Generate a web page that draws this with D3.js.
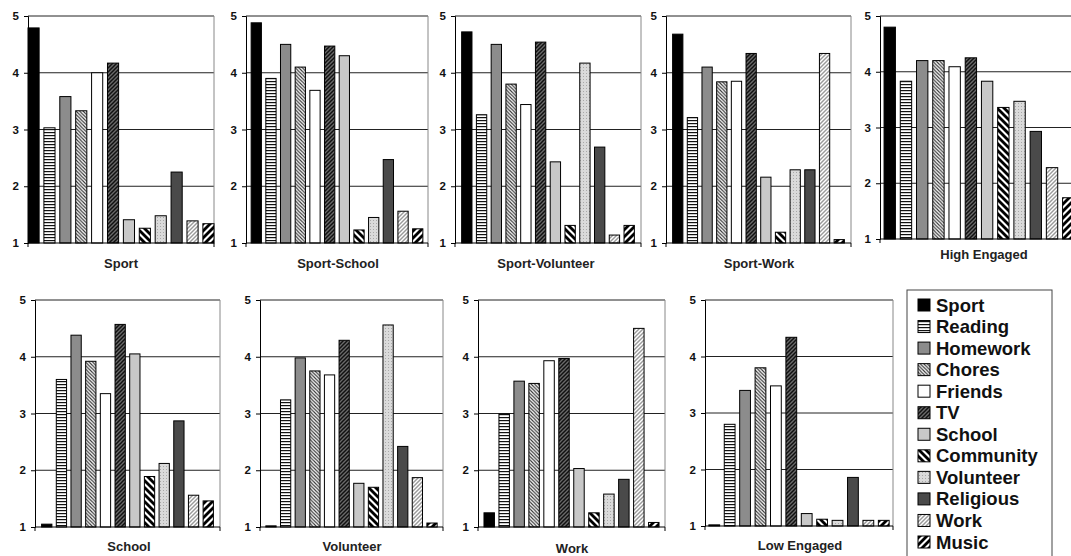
<!DOCTYPE html>
<html><head><meta charset="utf-8">
<script src="https://cdn.jsdelivr.net/npm/d3@7"></script>
<style>
html,body{margin:0;padding:0;background:#fff;}
svg{display:block;font-family:"Liberation Sans",Arial,sans-serif;}
</style></head>
<body><svg id="c" width="1071" height="556"></svg>
<script>
// ---------- DATA ----------
const activities = ["Sport","Reading","Homework","Chores","Friends","TV","School","Community","Volunteer","Religious","Work","Music"];
const groups = ["Sport","Sport-School","Sport-Volunteer","Sport-Work","High Engaged","School","Volunteer","Work","Low Engaged"];
const yTicks = [1,2,3,4,5];
const sportVals          = [4.79,3.03,3.58,3.33,4.00,4.17,1.41,1.26,1.48,2.25,1.39,1.34];
const sportSchoolVals    = [4.88,3.90,4.50,4.10,3.69,4.47,4.30,1.23,1.45,2.47,1.56,1.25];
const sportVolunteerVals = [4.72,3.26,4.50,3.80,3.44,4.54,2.43,1.31,4.17,2.69,1.14,1.31];
const sportWorkVals      = [4.68,3.21,4.10,3.84,3.85,4.34,2.16,1.19,2.29,2.29,4.34,1.06];
const highEngagedVals    = [4.80,3.83,4.20,4.20,4.09,4.25,3.83,3.36,3.47,2.93,2.28,1.74];
const schoolVals         = [1.05,3.60,4.38,3.92,3.35,4.57,4.05,1.89,2.12,2.87,1.56,1.46];
const volunteerVals      = [1.02,3.24,3.98,3.75,3.68,4.29,1.77,1.70,4.56,2.42,1.87,1.07];
const workVals           = [1.25,2.99,3.57,3.53,3.93,3.97,2.03,1.25,1.58,1.84,4.50,1.08];
const lowEngagedVals     = [1.02,2.80,3.40,3.80,3.48,4.34,1.22,1.12,1.10,1.86,1.10,1.10];
const seriesByGroup = [sportVals,sportSchoolVals,sportVolunteerVals,sportWorkVals,highEngagedVals,
                       schoolVals,volunteerVals,workVals,lowEngagedVals];

// ---------- LAYOUT ----------
const layout = [
  {x0:28, x1:214, y0:16, y1:243, outer:0.0, ty:268, tx:121},
  {x0:246,x1:428, y0:16, y1:243, outer:0.35,ty:268, tx:338},
  {x0:455,x1:641, y0:16, y1:243, outer:0.45,ty:268, tx:546},
  {x0:666,x1:851, y0:16, y1:243, outer:0.45,ty:268, tx:759},
  {x0:880,x1:1078,y0:16, y1:239, outer:0.25,ty:259, tx:984, noRight:true},
  {x0:35, x1:220, y0:300,y1:527, outer:0.45,ty:551, tx:129},
  {x0:260,x1:443, y0:300,y1:527, outer:0.4, ty:551, tx:352},
  {x0:478,x1:665, y0:300,y1:527, outer:0.4, ty:553, tx:572},
  {x0:705,x1:893, y0:300,y1:526, outer:0.25,ty:550, tx:800}
];

const svg = d3.select("#c");
const defs = svg.append("defs");

function stripes(id, size, bg, color, width, dir){
  const p = defs.append("pattern").attr("id",id).attr("patternUnits","userSpaceOnUse")
    .attr("width",size).attr("height",size);
  p.append("rect").attr("width",size).attr("height",size).attr("fill",bg);
  const segs = dir==="\\" ? [[-size,0,size,2*size],[0,-size,2*size,size],[0,0,size,size]]
                          : [[0,size,size,0],[-size,size,size,-size],[0,2*size,2*size,0]];
  segs.forEach(s=>p.append("line").attr("x1",s[0]).attr("y1",s[1]).attr("x2",s[2]).attr("y2",s[3])
     .attr("stroke",color).attr("stroke-width",width));
}
{
  const p = defs.append("pattern").attr("id","p1").attr("patternUnits","userSpaceOnUse").attr("width",4).attr("height",3);
  p.append("rect").attr("width",4).attr("height",3).attr("fill","#fff");
  p.append("rect").attr("y",0).attr("width",4).attr("height",1.2).attr("fill","#111");
}
stripes("p3",3.5,"#fff","#333",1.1,"\\");
stripes("p5",4,"#6a6a6a","#111",1.5,"/");
stripes("p7",7,"#fff","#000",2.8,"\\");
{
  const p = defs.append("pattern").attr("id","p8").attr("patternUnits","userSpaceOnUse").attr("width",3).attr("height",3);
  p.append("rect").attr("width",3).attr("height",3).attr("fill","#dadada");
  p.append("rect").attr("x",1).attr("y",1).attr("width",1).attr("height",1).attr("fill","#a8a8a8");
}
stripes("p10",4,"#fff","#9a9a9a",1.4,"/");
stripes("p11",7,"#fff","#000",2.8,"/");

const fills = ["#000","url(#p1)","#8c8c8c","url(#p3)","#fff","url(#p5)","#c8c8c8","url(#p7)","url(#p8)","#4a4a4a","url(#p10)","url(#p11)"];

groups.forEach((g,i)=>{
  const L = layout[i];
  const vals = seriesByGroup[i];
  const x = d3.scaleBand().domain(activities).range([L.x0,L.x1]).paddingInner(0.3).paddingOuter(L.outer);
  const y = d3.scaleLinear().domain([1,5]).range([L.y1,L.y0]);
  const gp = svg.append("g");

  gp.selectAll("line.grid").data(yTicks.slice(1)).join("line")
    .attr("x1",L.x0).attr("x2",L.x1).attr("y1",d=>y(d)).attr("y2",d=>y(d))
    .attr("stroke","#222").attr("stroke-width",1);
  if(!L.noRight){
    gp.append("line").attr("x1",L.x1).attr("x2",L.x1).attr("y1",L.y0).attr("y2",L.y1)
      .attr("stroke","#888").attr("stroke-width",1);
  }
  gp.selectAll("rect.bar").data(vals).join("rect")
    .attr("x",(d,k)=>x(activities[k])).attr("width",x.bandwidth())
    .attr("y",d=>y(d)).attr("height",d=>y(1)-y(d))
    .attr("fill",(d,k)=>fills[k]).attr("stroke","#000").attr("stroke-width",1);

  const ya = gp.append("g").attr("transform",`translate(${L.x0},0)`)
    .call(d3.axisLeft(y).tickValues(yTicks).tickFormat(d3.format("d")).tickSize(4).tickPadding(5));
  ya.select(".domain").attr("stroke","#000");
  ya.selectAll(".tick line").attr("stroke","#000");
  ya.selectAll("text").attr("font-size",11.5).attr("font-weight","bold").attr("fill","#111");
  gp.append("line").attr("x1",L.x0).attr("x2",L.x1).attr("y1",L.y1).attr("y2",L.y1).attr("stroke","#000");
  gp.append("line").attr("x1",L.x0).attr("x2",L.x0).attr("y1",L.y1).attr("y2",L.y1+4).attr("stroke","#000");
  gp.append("line").attr("x1",L.x1).attr("x2",L.x1).attr("y1",L.y1).attr("y2",L.y1+4).attr("stroke","#000");

  gp.append("text").attr("x",L.tx).attr("y",L.ty)
    .attr("text-anchor","middle").attr("font-size",13).attr("font-weight","bold").attr("fill","#222")
    .text(g);
});

const lg = svg.append("g");
lg.append("rect").attr("x",907).attr("y",290).attr("width",145).attr("height",275)
  .attr("fill","#fff").attr("stroke","#444").attr("stroke-width",1);
const ly = d3.scalePoint().domain(activities).range([305,542]);
lg.selectAll("rect.sw").data(activities).join("rect")
  .attr("x",918).attr("y",d=>ly(d)-6).attr("width",12).attr("height",12)
  .attr("fill",(d,k)=>fills[k]).attr("stroke","#000").attr("stroke-width",1);
lg.selectAll("text").data(activities).join("text")
  .attr("x",936).attr("y",d=>ly(d)+6.5).attr("font-size",18.5).attr("font-weight","bold").attr("fill","#111")
  .text(d=>d);
</script></body></html>
